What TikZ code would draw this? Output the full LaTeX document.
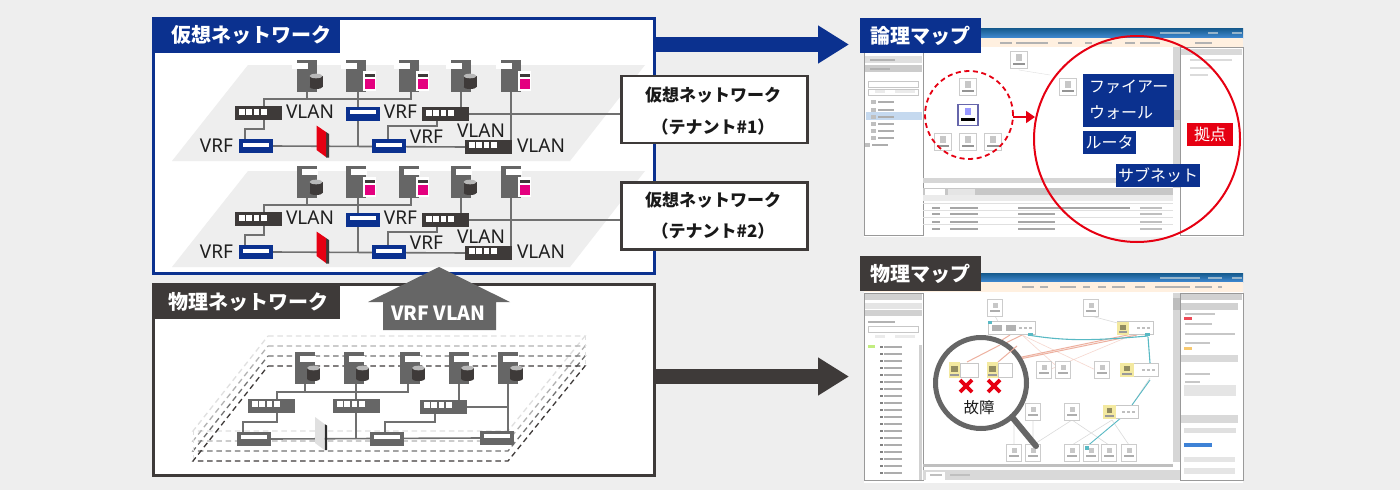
\documentclass[tikz,border=0pt]{standalone}
\usepackage{fontspec}
\setmainfont{Noto Sans CJK JP}
\newfontfamily\latf{Noto Sans}
\usetikzlibrary{arrows.meta}
\definecolor{navy}{HTML}{0B318F}
\definecolor{ink}{HTML}{3E3A39}
\definecolor{srvgray}{HTML}{666666}
\definecolor{wirec}{HTML}{707070}
\definecolor{pale}{HTML}{EEEEEE}
\definecolor{mag}{HTML}{E4007F}
\definecolor{alert}{HTML}{E60012}
\definecolor{teal1}{HTML}{58B9C4}
\definecolor{rose}{HTML}{EDB09F}
\definecolor{yel}{HTML}{F3E9A0}
\definecolor{hilite}{HTML}{C5D9EF}
\definecolor{hdark}{HTML}{14598C}
\pgfdeclarelayer{bgl}\pgfdeclarelayer{wirel}
\pgfsetlayers{bgl,wirel,main}
\newcommand{\fs}[1]{\fontsize{#1}{#1}\selectfont}
\tikzset{
  box/.style={inner sep=0,outer sep=0,rectangle},
  srv/.style={box,fill=srvgray,minimum width=20,minimum height=32},
  swbox/.style={box,fill=ink,minimum width=47,minimum height=14},
  rtbox/.style={box,fill=navy,minimum width=34,minimum height=14},
  wire/.style={draw=wirec,line width=1.6pt},
  lab/.style={inner sep=0,outer sep=0,text=black!88,font=\fs{19}\latf},
  tenant/.style={box,draw=ink,line width=2.4pt,fill=white,minimum width=186,minimum height=67},
  tent/.style={inner sep=0,font=\fs{17}\bfseries,text=black!90},
  tabt/.style={inner sep=0,text=white,font=\fs{20}\bfseries},
  bigarrow/.style={line width=15pt,-{Triangle[length=31pt,width=36pt]}},
  wpanel/.style={draw=black!40,line width=.6pt,fill=white},
  icon/.style={box,draw=black!20,line width=.7pt,fill=white,minimum width=17,minimum height=17},
}
% white port squares of a switch
\newcommand{\ports}[2]{\foreach \q in {0,1,2,3}{\fill[white] (#1+4+7.4*\q,#2-3.5) rectangle ++(5.6,6);}}
% disk
\newcommand{\disk}[2]{\fill[ink] (#1-6.5,#2-5) rectangle (#1+6.5,#2+6);\fill[ink] (#1,#2+6) ellipse (6.5 and 2);\fill[black!28] (#1,#2-5) ellipse (6.5 and 2.3);}
% document
\newcommand{\docu}[2]{\fill[white] (#1-6.7,#2-10) rectangle (#1+6.7,#2+10);\fill[ink] (#1-5,#2-7) rectangle (#1+5,#2-3.8);\fill[mag] (#1-5,#2-1.8) rectangle (#1+5,#2+8);}
% server: name, cx, cy, label offset
\newcommand{\server}[4]{\node[srv] (#1) at (#2,#3) {};\fill[white] (#2-10+#4,#3-13) rectangle ++(15.5,6);}
\newcommand{\tenantplane}[2]{%
 \begin{scope}[shift={(0,#2)}]
 \begin{pgfonlayer}{bgl}
  \fill[pale] (248,65) -- (645,65) -- (570,161) -- (172,161) -- cycle;
 \end{pgfonlayer}
 \pgfmathsetmacro{\lo}{#2>0 ? 5 : -5}
 \server{#1s1}{307}{76}{\lo}\disk{316}{81}
 \server{#1s2}{356}{76}{\lo}\docu{369.5}{81}
 \server{#1s3}{409}{76}{\lo}\docu{422.5}{81}
 \server{#1s4}{461}{76}{\lo}\disk{470}{81}
 \server{#1s5}{511}{76}{\lo}\docu{524.5}{81}
 \node[swbox] (#1w1) at (258.5,113) {};\ports{235}{112}
 \node[rtbox] (#1r2) at (363,114) {};\fill[white] (350,110) rectangle (376,114);
 \node[swbox] (#1w2) at (445.5,114) {};\ports{422}{113}
 \node[rtbox] (#1r1) at (256,146) {};\fill[white] (243,143) rectangle (269,147);
 \node[rtbox] (#1r3) at (389,146) {};\fill[white] (376,143) rectangle (402,147);
 \node[swbox] (#1w3) at (488.5,147) {};\ports{465}{145.5}
 \fill[ink] (326,132) -- (329,134) -- (329,157.5) -- (326,157.5) -- cycle;
 \fill[alert] (316.5,125.5) -- (326,132) -- (326,157) -- (316.5,150) -- cycle;
 \node[lab] (#1t1) at (310,112) {VLAN};
 \node[lab] (#1t2) at (400.5,112) {VRF};
 \node[lab] (#1t3) at (216.5,145.5) {VRF};
 \node[lab] (#1t4) at (426.5,137) {VRF};
 \node[lab] (#1t5) at (481,131) {VLAN};
 \node[lab] (#1t6) at (541,145.5) {VLAN};
 \begin{pgfonlayer}{wirel}
  \coordinate (#1busl) at (264,99); \coordinate (#1busr) at (411,99);
  \coordinate (#1k1) at (264,129); \coordinate (#1k2) at (245,129);
  \coordinate (#1k3) at (437,126); \coordinate (#1k4) at (388,126);
  \draw[wire] (#1w1.north -| #1busl) -- (#1busl) -- (#1busr) -- (#1s3.south -| #1busr);
  \draw[wire] (#1s1.south) -- (#1s1.south |- #1busl);
  \draw[wire] (#1w1.south -| #1k1) -- (#1k1) -- (#1k2) -- (#1r1.north -| #1k2);
  \draw[wire] (#1w2.south -| #1k3) -- (#1k3) -- (#1k4) -- (#1r3.north -| #1k4);
  \draw[wire] (#1r1.east) -- (#1w3.west);
  \draw[wire] ([xshift=2]#1s2.south) -- ([xshift=2]#1s2.south |- #1r1.east);
  \draw[wire] (#1s4.south) -- (#1s4.south |- #1w2.north);
  \draw[wire] (#1s5.south) -- (#1s5.south |- #1w3.north);
 \end{pgfonlayer}
 \end{scope}}
\begin{document}
\begin{tikzpicture}[x=1pt,y=-1pt]
\useasboundingbox (0,0) rectangle (1400,490);
\begin{pgfonlayer}{bgl}
 \fill[pale] (0,0) rectangle (1400,490);
 \node[box,draw=navy,line width=3pt,fill=white,minimum width=501,minimum height=255] (vpanel) at (404,146) {};
 \node[box,draw=ink,line width=3pt,fill=white,minimum width=501,minimum height=191] (ppanel) at (404,380) {};
\end{pgfonlayer}
\node[box,fill=navy,minimum width=188,minimum height=36] (vtab) at (246,35) {};
\node[tabt] (vtabt) at (251,35) {仮想ネットワーク};
\node[box,fill=ink,minimum width=187,minimum height=36] (ptab) at (246,301) {};
\node[tabt] (ptabt) at (248,302) {物理ネットワーク};
\tenantplane{a}{0}
\tenantplane{b}{106}
\node[tenant] (ten1) at (714.5,109.5) {};
\node[tent] (ten1a) at (713,95) {仮想ネットワーク};
\node[tent] (ten1b) at (713,127.5) {（テナント\#1）};
\node[tenant] (ten2) at (714.5,216) {};
\node[tent] (ten2a) at (713,200) {仮想ネットワーク};
\node[tent] (ten2b) at (713,231.5) {（テナント\#2）};
\begin{pgfonlayer}{wirel}
 \draw[wire] (aw2.east) -- (ten1.west |- aw2.east);
 \draw[wire] (bw2.east) -- (ten2.west |- bw2.east);
\end{pgfonlayer}
% VRF VLAN block arrow
\fill[srvgray] (439,267) -- (510,302) -- (496,302) -- (496,330) -- (383,330) -- (383,302) -- (368,302) -- cycle;
\node[text=white,font=\fs{19.5}\bfseries,inner sep=0] (upt) at (438.5,313) {VRF VLAN};
% physical plane
\begin{pgfonlayer}{wirel}
 \foreach \dy/\cc in {-30/black!12,-20/black!30,-10/black!55,0/ink}{
  \draw[\cc,line width=1.3pt,dash pattern=on 5.5pt off 3.8pt] (268,366+\dy) -- (585,366+\dy) -- (508,461+\dy) -- (193,461+\dy) -- cycle;}
 \draw[black!12,line width=1pt,dash pattern=on 4pt off 4pt] (585,336) -- (585,366) (193,431) -- (193,461);
\end{pgfonlayer}
\foreach \n/\cx in {1/305,2/354,3/410,4/459,5/508}{
 \node[srv] (ps\n) at (\cx,368) {};
 \fill[white] (\cx-5,356) rectangle ++(15.5,6);
 \disk{\cx+8.5}{373}}
\node[swbox,fill=srvgray] (pw1) at (271.5,406) {};\ports{248}{404.5}
\node[swbox,fill=srvgray] (pw2) at (356.5,406) {};\ports{333}{404.5}
\node[swbox,fill=srvgray] (pw3) at (443.5,407) {};\ports{420}{405.5}
\node[rtbox,fill=srvgray] (pr1) at (254,439) {};\fill[white] (241,435) rectangle (267,439);
\node[rtbox,fill=srvgray] (pr2) at (387,439) {};\fill[white] (374,435) rectangle (400,439);
\node[rtbox,fill=srvgray] (pr3) at (497,438) {};\fill[white] (484,434) rectangle (510,438);
\fill[black!82] (324.5,424) -- (327,425.5) -- (327,450) -- (324.5,450) -- cycle;
\fill[black!12] (315,417) -- (324.5,424) -- (324.5,450) -- (315,443) -- cycle;
\begin{pgfonlayer}{wirel}
 \coordinate (pbl) at (277,392); \coordinate (pbr) at (408,392);
 \coordinate (pk1) at (277,422); \coordinate (pk2) at (243,422);
 \coordinate (pk3) at (435,422); \coordinate (pk4) at (385,422);
 \draw[wire] (pw1.north -| pbl) -- (pbl) -- (pbr) -- (ps3.south -| pbr);
 \draw[wire] (ps1.south) -- (ps1.south |- pbl);
 \draw[wire] ([xshift=2]ps2.south) -- ([xshift=2]ps2.south |- pr1.east);
 \draw[wire] (ps4.south) -- (ps4.south |- pw3.north);
 \draw[wire] (ps5.south) -- (ps5.south |- pr3.north);
 \draw[wire] (pw3.east) -- (pw3.east -| ps5.south);
 \draw[wire] (pw1.south -| pk1) -- (pk1) -- (pk2) -- (pr1.north -| pk2);
 \draw[wire] (pw3.south -| pk3) -- (pk3) -- (pk4) -- (pr2.north -| pk4);
 \draw[wire] (pr1.east) -- (pr3.west);
\end{pgfonlayer}
% ---------- logical map screenshot
\fill[white] (864,28) rectangle (1243,237);
\shade[top color=hdark,bottom color=teal1!75!blue] (864,28) rectangle (1243,38);
\foreach \a/\b in {1160/1190,1208/1218,1232/1242}{\fill[white!55!hdark] (\a,31.5) rectangle (\b,33.5);}
\fill[white!88!orange] (864,38) rectangle (1243,47);
\foreach \a/\b in {1000/1012,1016/1048,1058/1072,1085/1092,1100/1112,1125/1135,1140/1160,1195/1212}{\fill[black!30] (\a,41.5) rectangle (\b,43.5);}
\draw[wpanel] (864,50) rectangle (923,235);
\fill[black!12] (865,56) rectangle (922,63);\fill[black!20] (865,65) rectangle (922,72);
\fill[black!30] (870,59) rectangle (895,60.5);\fill[black!30] (870,68) rectangle (890,69.5);
\draw[black!22] (868,81) rectangle (918,87);\draw[black!22] (868,89) rectangle (918,95);
\fill[black!8] (875,90) rectangle (885,93);\fill[black!8] (895,90) rectangle (915,93);
\fill[hilite] (866,112) rectangle (922,120);
\foreach \yy/\xa in {101/878,109/878,116/878,123/878,130/878,137/878,144/872}{\fill[black!32] (\xa,\yy) rectangle (\xa+16,\yy+1.5);\fill[black!25] (\xa-7,\yy-1) rectangle (\xa-2,\yy+2.5);}
\draw[wpanel] (1180,47) rectangle (1243,235);
\fill[black!15] (1181,49) rectangle (1242,55);
\foreach \yy/\xb in {59/1232,67/1210,74/1208}{\fill[black!14] (1190,\yy) rectangle (\xb,\yy+2);}
\fill[black!16] (1173,47) rectangle (1180,188);
\fill[black!26] (1173,110) rectangle (1180,120);
% log table
\fill[black!16] (923,178) rectangle (1173,183);
\fill[black!22] (923,188) rectangle (1173,195);\fill[white] (925,189) rectangle (945,195);\fill[black!10] (948,189) rectangle (975,195);
\fill[black!8] (923,195) rectangle (1173,201);
\foreach \yy in {207,213,221,228}{
 \fill[black!35] (932,\yy) rectangle (940,\yy+2);
 \fill[black!35] (950,\yy) rectangle (978,\yy+2);
 \fill[black!35] (1018,\yy) rectangle (1055,\yy+2);
 \fill[black!25] (1140,\yy) rectangle (1162,\yy+2);}
\fill[black!35] (1055,207) rectangle (1105,209);\fill[black!35] (1105,207) rectangle (1130,209);
\draw[black!12] (923,203) -- (1173,203) (923,210) -- (1173,210) (923,217) -- (1173,217) (923,224) -- (1173,224);
\draw[black!12] (1019,58) -- (1019,70) (1019,70) -- (1050,75);
\foreach \n/\xx/\yy in {1/1019/60,2/968/87,3/1068/87,4/943/142,5/968/142,6/993/142}{
 \node[icon] (li\n) at (\xx,\yy) {};
 \fill[black!22] (\xx-3,\yy-6) rectangle (\xx+3,\yy+1);
 \fill[black!42] (\xx-6,\yy+3) rectangle (\xx+6,\yy+5);}
\node[icon,draw=blue!45!black!60,line width=1.2pt,minimum width=20,minimum height=21] (li7) at (968,115) {};
\fill[blue!40] (965,108) rectangle (971,115);\fill[black] (961,118) rectangle (975,121);
% red circles
\node[circle,draw=alert,line width=1.8pt,dash pattern=on 5pt off 3.6pt,minimum size=88,inner sep=0,outer sep=0] (dashc) at (969,115) {};
\node[circle,draw=alert,line width=2pt,minimum size=206,inner sep=0,outer sep=0] (bigc) at (1137,139) {};
\coordinate (smallarr) at (1035,117);
\draw[alert,line width=1.8pt,-{Triangle[length=9pt,width=12pt]}] (dashc.east |- smallarr) -- (smallarr);
\node[box,fill=navy,minimum width=91,minimum height=53] (fwb) at (1128.5,100.5) {};
\node[inner sep=0,text=white,font=\fs{16},anchor=west] (fwt1) at (1089,87) {ファイアー};
\node[inner sep=0,text=white,font=\fs{16},anchor=west] (fwt2) at (1089,113) {ウォール};
\node[box,fill=navy,minimum width=53,minimum height=23,text=white,font=\fs{16}] (rtt) at (1109.5,142.5) {ルータ};
\node[box,fill=navy,minimum width=84,minimum height=23,text=white,font=\fs{16}] (snt) at (1158,175.5) {サブネット};
\node[box,fill=alert,minimum width=46,minimum height=23,text=white,font=\fs{16}] (kyo) at (1210,134.5) {拠点};
\node[box,fill=navy,minimum width=121,minimum height=35] (ltab) at (920.5,35.5) {};
\node[tabt] (ltabt) at (920.5,35.5) {論理マップ};
% ---------- physical map screenshot
\fill[white] (864,273) rectangle (1243,483);
\shade[top color=hdark,bottom color=teal1!75!blue] (864,273) rectangle (1243,282);
\foreach \a/\b in {1160/1200,1208/1222,1232/1242}{\fill[white!55!hdark] (\a,276.5) rectangle (\b,278.5);}
\fill[white!88!orange] (864,282) rectangle (1243,292);
\foreach \a/\b in {1022/1034,1040/1048,1060/1076,1083/1090,1098/1106,1112/1125,1135/1145,1155/1190,1195/1212,1218/1222}{\fill[black!30] (\a,286) rectangle (\b,288);}
\draw[wpanel] (864,293) rectangle (923,480);
\fill[black!18] (865,294) rectangle (922,300);\fill[black!10] (865,303) rectangle (922,309);\fill[black!18] (865,310) rectangle (922,316);
\draw[black!22] (868,326) rectangle (918,332);\fill[black!30] (868,321) rectangle (895,322.5);
\fill[black!8] (875,335) rectangle (885,338);\fill[black!8] (895,335) rectangle (915,338);
\foreach \k in {0,...,18}{\fill[black!32] (884,346+7*\k) rectangle (902,347.5+7*\k);\fill[black!50] (880,346+7*\k) rectangle (883,348+7*\k);}
\fill[yel!80!green] (868,345) rectangle (875,348);\fill[black!18] (919,345) rectangle (922,480);
\draw[wpanel] (1180,293) rectangle (1243,480);
\fill[black!18] (1181,294) rectangle (1242,300);\fill[black!18] (1181,303) rectangle (1238,310);
\fill[black!15] (1181,355) rectangle (1238,362);\fill[black!15] (1181,415) rectangle (1238,423);
\foreach \yy/\xb in {313/1215,323/1212,333/1235,342/1210,373/1210,381/1200,391/1190}{\fill[black!22] (1185,\yy) rectangle (\xb,\yy+1.5);}
\fill[alert!70] (1184,317) rectangle (1192,319.5);\fill[yel!70!orange] (1184,347) rectangle (1192,349.5);
\fill[black!10] (1184,385) rectangle (1236,396);\fill[black!10] (1184,457) rectangle (1235,462);\fill[black!10] (1184,468) rectangle (1235,474);
\fill[black!12] (1184,428) rectangle (1236,433);
\fill[teal1!70!blue] (1184,443) rectangle (1212,447);
\fill[black!15] (923,470) rectangle (1180,480);\fill[white] (926,472) rectangle (945,480);
\fill[black!25] (930,474) rectangle (942,476);\fill[black!25] (950,474) rectangle (970,476);
\fill[black!25] (923,464) rectangle (1173,467);
\fill[black!16] (1173,293) rectangle (1180,462);\fill[black!26] (1173,298) rectangle (1180,310);
% map links
\draw[rose!50,line width=.6pt] (1022,335) -- (1100,372) (1137,333) -- (1044,372) (1022,335) -- (1063,372);
\draw[black!14,line width=.6pt] (995,316) -- (1000,325) (1091,316) -- (1125,325) (1072,420) -- (1033,445) (1072,420) -- (1109,445) (1112,420) -- (1072,445) (1112,420) -- (1129,445) (1033,420) -- (1033,445) (1014,420) -- (1014,445) (1150,378) -- (1132,405);
\draw[rose,line width=1pt] (1022,335) -- (967,362) (1010,335) -- (967,362);
\draw[rose,line width=1pt] (1137,333) -- (998,362) (1137,335) -- (1005,362);
\draw[teal1,line width=1.1pt] (1028,335) .. controls (1070,342) and (1100,340) .. (1148,336);
\draw[teal1,line width=1.1pt] (1148,337) -- (1150,363);
\draw[teal1,line width=.9pt] (1150,380) -- (1132,405) (1122,417) -- (1085,448);
\foreach \n/\xx/\yy in {1/995/308,2/1091/308,3/1044/370,4/1063/370,5/1102/370,6/1072/412,7/1033/412,8/1014/453,9/1033/453,10/1072/453,11/1091/453,12/1109/453,13/1129/453}{
 \node[icon,minimum width=15,minimum height=17] (pi\n) at (\xx,\yy) {};
 \fill[black!22] (\xx-2.5,\yy-5) rectangle (\xx+2.5,\yy);
 \fill[black!32] (\xx-5,\yy+2) rectangle (\xx+5,\yy+4);}
\foreach \n/\xa/\xb/\yy in {1/988/1035/328,2/1117/1153/328,3/1120/1158/370,4/1103/1138/412}{
 \node[box,draw=black!22,line width=.6pt,fill=white,minimum width=\xb-\xa,minimum height=13] (pg\n) at (\xa/2+\xb/2,\yy) {};
 \foreach \k in {0,1,2}{\fill[black!25] (\xb-16+5*\k,\yy-1) rectangle ++(3,2);}}
\fill[black!30] (992,325) rectangle (1002,331);\fill[black!30] (1006,325) rectangle (1016,331);
\fill[yel] (1117,322) rectangle (1129,335);\fill[black!40] (1119,331) rectangle (1127,333);\fill[yel!60!black] (1120,325) rectangle (1126,330);
\fill[yel] (1120,363) rectangle (1134,377);\fill[black!40] (1122,373) rectangle (1132,375);\fill[yel!60!black] (1124,366) rectangle (1130,371);
\fill[yel] (1103,405) rectangle (1116,419);\fill[black!40] (1105,415) rectangle (1114,417);\fill[yel!60!black] (1107,408) rectangle (1112,413);
\fill[teal1] (1085,446) rectangle (1089,450);\fill[teal1] (988,321) rectangle (992,324);\fill[teal1] (1028,333) rectangle (1033,336);\fill[teal1] (1145,333) rectangle (1150,336);
% magnifier
\coordinate (hA) at (1012,417); \coordinate (hB) at (1036,446);
\draw[srvgray,line width=6pt,line cap=round] (hA) -- (hB);
\node[circle,draw=srvgray,line width=5pt,fill=white,minimum size=91,inner sep=0,outer sep=0] (lens) at (981,383) {};
\fill[yel] (949,362) rectangle (960,378);\fill[yel] (987,362) rectangle (998,378);
\fill[yel!60!black] (951,366) rectangle (958,372);\fill[yel!60!black] (989,366) rectangle (996,372);
\fill[black!40] (950,374) rectangle (959,376);\fill[black!40] (988,374) rectangle (997,376);
\draw[black!22] (960,363) rectangle (978,377) (998,363) rectangle (1012,377);
\draw[rose,line width=1pt] (1000,345) -- (967,362) (1017,346) -- (998,362);
\foreach \xx in {966,994}{
 \draw[alert,line width=3.8pt] (\xx-6,380) -- (\xx+6,392) (\xx-6,392) -- (\xx+6,380);}
\node[inner sep=0,font=\fs{15.5},text=black!90] (koshou) at (979,408) {故障};
\node[box,fill=ink,minimum width=121,minimum height=35] (rtab) at (920.5,273.5) {};
\node[tabt] (rtabt) at (920.5,273.5) {物理マップ};
% big arrows
\coordinate (a1) at (849,44.5); \coordinate (a2) at (849,376.5);
\draw[bigarrow,navy] (vpanel.east |- a1) -- (a1);
\draw[bigarrow,ink] (ppanel.east |- a2) -- (a2);
\end{tikzpicture}
\end{document}
